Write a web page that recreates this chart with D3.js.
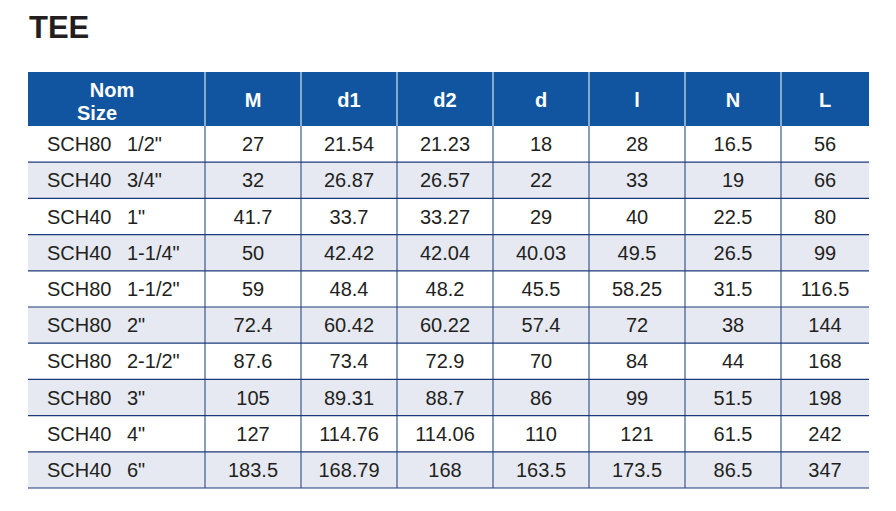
<!DOCTYPE html>
<html><head><meta charset="utf-8">
<script src="https://cdn.jsdelivr.net/npm/d3@7"></script>
<style>body{margin:0;background:#fff}</style>
</head><body>
<script>
const columns = ["Nom Size", "M", "d1", "d2", "d", "l", "N", "L"];
const sizes = ['SCH80  1/2"', 'SCH40  3/4"', 'SCH40  1"', 'SCH40  1-1/4"', 'SCH80  1-1/2"', 'SCH80  2"', 'SCH80  2-1/2"', 'SCH80  3"', 'SCH40  4"', 'SCH40  6"'];
const M  = ["27", "32", "41.7", "50", "59", "72.4", "87.6", "105", "127", "183.5"];
const d1 = ["21.54", "26.87", "33.7", "42.42", "48.4", "60.42", "73.4", "89.31", "114.76", "168.79"];
const d2 = ["21.23", "26.57", "33.27", "42.04", "48.2", "60.22", "72.9", "88.7", "114.06", "168"];
const dd = ["18", "22", "29", "40.03", "45.5", "57.4", "70", "86", "110", "163.5"];
const l  = ["28", "33", "40", "49.5", "58.25", "72", "84", "99", "121", "173.5"];
const N  = ["16.5", "19", "22.5", "26.5", "31.5", "38", "44", "51.5", "61.5", "86.5"];
const L  = ["56", "66", "80", "99", "116.5", "144", "168", "198", "242", "347"];

const rows = sizes.map((s, i) => [s, M[i], d1[i], d2[i], dd[i], l[i], N[i], L[i]]);
const colEdges = [28, 205, 301, 397, 493, 589, 685, 781, 869];
const left = 28, right = 869, headTop = 72, headBot = 126, bottom = 488;

const svg = d3.select("body").append("svg").attr("width", 896).attr("height", 511)
  .style("font-family", "'Liberation Sans', Arial, sans-serif");

svg.append("text").attr("x", 29).attr("y", 38).text("TEE")
  .attr("font-size", 31).attr("font-weight", "bold").attr("fill", "#231f20");

const y = d3.scaleBand().domain(d3.range(rows.length)).range([headBot, bottom]);
const colX = i => colEdges[i];
const colW = i => colEdges[i + 1] - colEdges[i];

svg.append("rect").attr("x", left).attr("y", headTop).attr("width", right - left)
  .attr("height", headBot - headTop).attr("fill", "#1155a0");

svg.selectAll(".bg").data(rows).join("rect")
  .attr("x", left).attr("y", (d, i) => y(i)).attr("width", right - left)
  .attr("height", y.bandwidth()).attr("fill", (d, i) => i % 2 ? "#e6e9f1" : "#fff");

// header text
const hd = svg.append("g").attr("fill", "#fff").attr("font-weight", "bold").attr("font-size", 20);
hd.append("text").attr("x", 112).attr("y", 97).attr("text-anchor", "middle").text("Nom");
hd.append("text").attr("x", 97).attr("y", 120).attr("text-anchor", "middle").text("Size");
columns.slice(1).forEach((c, j) => {
  hd.append("text").attr("x", colX(j + 1) + colW(j + 1) / 2).attr("y", 107)
    .attr("text-anchor", "middle").text(c);
});

// header separators
svg.selectAll(".hs").data(colEdges.slice(1, -1)).join("line")
  .attr("x1", d => d).attr("x2", d => d).attr("y1", headTop).attr("y2", headBot)
  .attr("stroke", "#fff").attr("stroke-width", 1);

// body separators
svg.selectAll(".bs").data(colEdges.slice(1, -1)).join("line")
  .attr("x1", d => d).attr("x2", d => d).attr("y1", headBot).attr("y2", bottom)
  .attr("stroke", "#1c3a7a").attr("stroke-width", 1);

svg.selectAll(".hl").data(d3.range(rows.length)).join("line")
  .attr("x1", left).attr("x2", right)
  .attr("y1", i => y(i) + y.bandwidth()).attr("y2", i => y(i) + y.bandwidth())
  .attr("stroke", "#1c3a7a").attr("stroke-width", 1.2);

// cells
rows.forEach((r, i) => {
  const ty = y(i) + y.bandwidth() / 2 + 7;
  r.forEach((v, j) => {
    if (j === 0) {
      const parts = v.split(/\s+/);
      svg.append("text").attr("x", 47).attr("y", ty).attr("font-size", 20)
        .attr("fill", "#231f20").text(parts[0]);
      svg.append("text").attr("x", 127).attr("y", ty).attr("font-size", 20)
        .attr("fill", "#231f20").text(parts[1]);
    } else {
      svg.append("text")
        .attr("x", colX(j) + colW(j) / 2).attr("y", ty)
        .attr("text-anchor", "middle")
        .attr("font-size", 20).attr("fill", "#231f20").text(v);
    }
  });
});
</script>
</body></html>
